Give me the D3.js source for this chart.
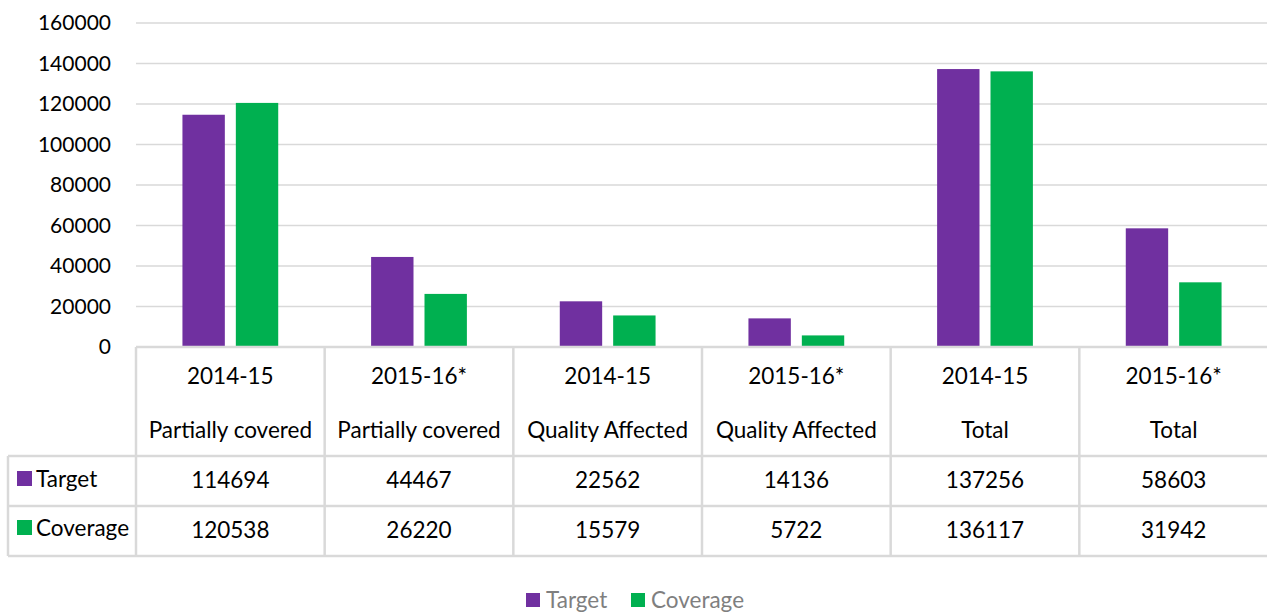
<!DOCTYPE html>
<html lang="en">
<head>
  <meta charset="utf-8">
  <title>Target vs Coverage</title>
  <script src="https://d3js.org/d3.v7.min.js"></script>
  <style>
    body { margin: 0; background: #fff; }
    text { font-family: Lato, "Open Sans", sans-serif; }
  </style>
</head>
<body>
<script>
  // data
  const years = ["2014-15", "2015-16*", "2014-15", "2015-16*", "2014-15", "2015-16*"];
  const groups = ["Partially covered", "Partially covered", "Quality Affected", "Quality Affected", "Total", "Total"];
  const seriesNames = ["Target", "Coverage"];
  const targetValues = [114694, 44467, 22562, 14136, 137256, 58603];
  const coverageValues = [120538, 26220, 15579, 5722, 136117, 31942];
  const yTicks = [0, 20000, 40000, 60000, 80000, 100000, 120000, 140000, 160000];
  const colors = ["#7030A0", "#00B050"];

  const W = 1267, H = 613;
  const plotLeft = 136, plotRight = 1268, plotTop = 23, base = 347;
  const rowCat = 456, rowT = 506, rowC = 556, tableLeft = 8;
  const gridCol = "#d9d9d9";

  const cats = d3.range(years.length);
  const rows = cats.map(i => ({ i, values: [targetValues[i], coverageValues[i]] }));

  const svg = d3.select("body").append("svg")
    .attr("width", W).attr("height", H);

  const x = d3.scaleBand().domain(cats).range([plotLeft, plotRight]);
  const xs = d3.scaleBand().domain(seriesNames).range([0, x.bandwidth()])
    .paddingInner(0.206).paddingOuter(0.87);
  const y = d3.scaleLinear().domain([0, 160000]).range([base, plotTop]);

  // gridlines
  svg.append("g").selectAll("line")
    .data(yTicks.filter(t => t > 0))
    .enter().append("line")
    .attr("x1", plotLeft).attr("x2", W)
    .attr("y1", d => y(d)).attr("y2", d => y(d))
    .attr("stroke", gridCol).attr("stroke-width", 1.3);

  // y axis labels
  const yAxis = svg.append("g")
    .attr("transform", "translate(" + (plotLeft - 25) + ",0)")
    .call(d3.axisLeft(y).tickValues(yTicks).tickSize(0).tickPadding(0).tickFormat(d3.format("d")));
  yAxis.select(".domain").remove();
  yAxis.selectAll("text")
    .attr("font-family", "Lato, sans-serif")
    .attr("font-size", 21).attr("fill", "#000");

  // bars
  const g = svg.append("g").selectAll("g")
    .data(rows).enter().append("g")
    .attr("transform", d => "translate(" + x(d.i) + ",0)");
  g.selectAll("rect")
    .data(d => d.values.map((v, k) => ({ k, v })))
    .enter().append("rect")
    .attr("x", d => xs(seriesNames[d.k]))
    .attr("width", xs.bandwidth())
    .attr("y", d => y(d.v))
    .attr("height", d => y(0) - y(d.v))
    .attr("fill", d => colors[d.k]);

  // data table
  const tbl = svg.append("g").attr("stroke", gridCol).attr("stroke-width", 2.5);
  tbl.append("line").attr("x1", plotLeft).attr("x2", W).attr("y1", base).attr("y2", base);
  [rowCat, rowT, rowC].forEach(yy => {
    tbl.append("line").attr("x1", tableLeft).attr("x2", W).attr("y1", yy).attr("y2", yy);
  });
  tbl.append("line").attr("x1", tableLeft).attr("x2", tableLeft).attr("y1", rowCat).attr("y2", rowC);
  cats.forEach(i => {
    tbl.append("line").attr("x1", x(i)).attr("x2", x(i)).attr("y1", base).attr("y2", rowC);
  });

  const txt = svg.append("g").attr("font-size", 22.5).attr("fill", "#000")
    .attr("text-anchor", "middle").attr("dominant-baseline", "central");
  cats.forEach(i => {
    const cx = x(i) + x.bandwidth() / 2;
    txt.append("text").attr("x", cx).attr("y", 375).text(years[i]);
    txt.append("text").attr("x", cx).attr("y", 429).text(groups[i]);
    txt.append("text").attr("x", cx).attr("y", 479).text(targetValues[i]);
    txt.append("text").attr("x", cx).attr("y", 529).text(coverageValues[i]);
  });

  // row keys
  seriesNames.forEach((s, k) => {
    const cy = k === 0 ? 479 : 528;
    svg.append("rect").attr("x", 17).attr("y", cy - 8).attr("width", 15).attr("height", 15)
      .attr("fill", colors[k]);
    svg.append("text").attr("x", 36).attr("y", cy - 1).attr("dominant-baseline", "central")
      .attr("font-size", 22.5).attr("fill", "#000").text(s);
  });

  // bottom legend
  const leg = svg.append("g").attr("transform", "translate(526,600)");
  const legX = [0, 105];
  seriesNames.forEach((s, k) => {
    leg.append("rect").attr("x", legX[k]).attr("y", -7).attr("width", 14).attr("height", 14)
      .attr("fill", colors[k]);
    leg.append("text").attr("x", legX[k] + 20).attr("y", -1).attr("dominant-baseline", "central")
      .attr("font-size", 22.5).attr("fill", "#7f7f7f").text(s);
  });
</script>
</body>
</html>
